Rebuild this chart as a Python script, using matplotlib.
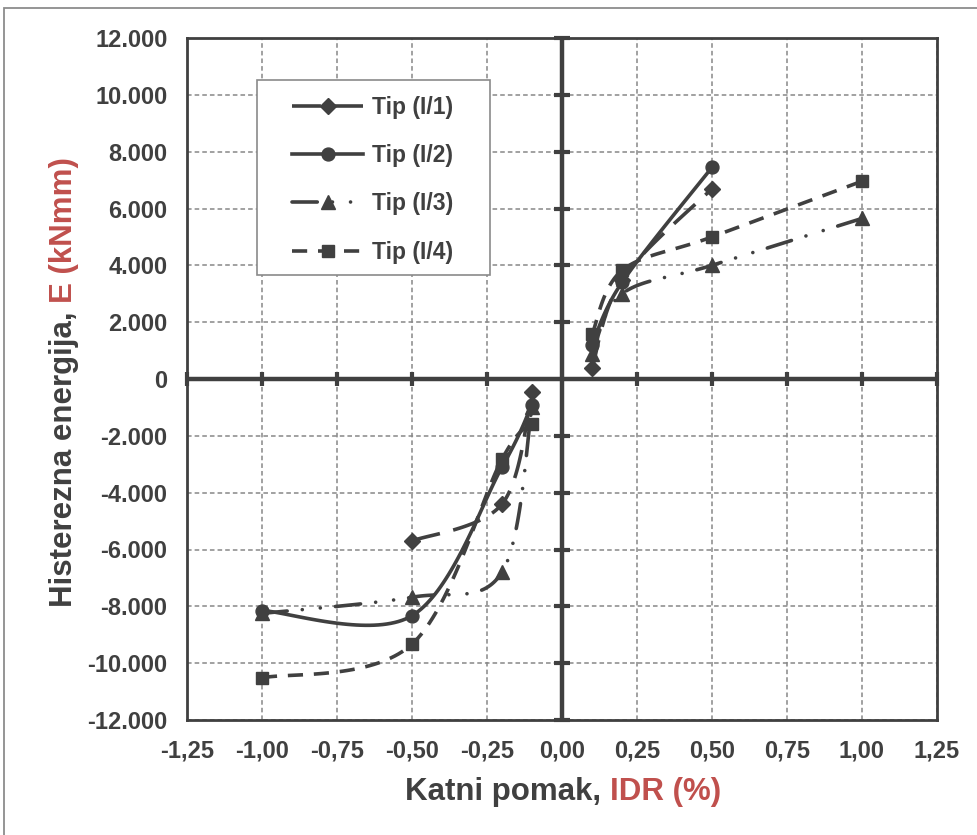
import numpy as np
import matplotlib
matplotlib.use('Agg')
import matplotlib.pyplot as plt
from matplotlib.ticker import FuncFormatter
from matplotlib.lines import Line2D
from matplotlib.patches import Rectangle

plt.rcParams['font.family'] = ['Liberation Sans', 'DejaVu Sans']
plt.rcParams['font.weight'] = 'bold'

# ---------------- data ----------------
labels = ['Tip (I/1)', 'Tip (I/2)', 'Tip (I/3)', 'Tip (I/4)']

i1_pos_x = [0.1, 0.2, 0.5]
i1_pos_e = [380, 3500, 6700]
i1_neg_x = [-0.5, -0.2, -0.1]
i1_neg_e = [-5700, -4400, -470]

i2_pos_x = [0.1, 0.2, 0.5]
i2_pos_e = [1200, 3400, 7450]
i2_neg_x = [-1.0, -0.5, -0.2, -0.1]
i2_neg_e = [-8150, -8330, -3100, -900]

i3_pos_x = [0.1, 0.2, 0.5, 1.0]
i3_pos_e = [880, 3000, 4000, 5650]
i3_neg_x = [-1.0, -0.5, -0.2, -0.1]
i3_neg_e = [-8250, -7680, -6800, -1000]

i4_pos_x = [0.1, 0.2, 0.5, 1.0]
i4_pos_e = [1570, 3820, 5000, 6960]
i4_neg_x = [-1.0, -0.5, -0.2, -0.1]
i4_neg_e = [-10520, -9330, -2820, -1580]

x_ticks = [-1.25, -1.0, -0.75, -0.5, -0.25, 0.0, 0.25, 0.5, 0.75, 1.0, 1.25]
y_ticks = [-12000, -10000, -8000, -6000, -4000, -2000, 0, 2000, 4000, 6000, 8000, 10000, 12000]

# ---------------- helpers ----------------
def excel_smooth(x, y, n=40):
    P = np.column_stack([x, y]).astype(float)
    m = len(P)
    out = [P[0]]
    t = np.linspace(0, 1, n)[1:, None]
    for i in range(m - 1):
        p0 = P[max(i - 1, 0)]
        p1 = P[i]
        p2 = P[i + 1]
        p3 = P[min(i + 2, m - 1)]
        c1 = p1 + (p2 - p0) / 6.0
        c2 = p2 - (p3 - p1) / 6.0
        seg = ((1 - t) ** 3) * p1 + 3 * ((1 - t) ** 2) * t * c1 + 3 * (1 - t) * t ** 2 * c2 + t ** 3 * p2
        out.extend(seg)
    out = np.array(out)
    return out[:, 0], out[:, 1]

DARK = '#404040'
RED = '#C0504D'
LW = 2.6

styles = [
    dict(marker='D', ms=7.8, ls=(0, (8.0, 3.8)), cap='butt'),
    dict(marker='o', ms=9.3, ls='-', cap='butt'),
    dict(marker='^', ms=9.8, ls=(0, (7.0, 4.2, 0.01, 5.0, 0.01, 4.2)), cap='round'),
    dict(marker='s', ms=8.8, ls=(0, (4.2, 3.0)), cap='butt'),
]

series = [
    [(i1_pos_x, i1_pos_e), (i1_neg_x, i1_neg_e)],
    [(i2_pos_x, i2_pos_e), (i2_neg_x, i2_neg_e)],
    [(i3_pos_x, i3_pos_e), (i3_neg_x, i3_neg_e)],
    [(i4_pos_x, i4_pos_e), (i4_neg_x, i4_neg_e)],
]

# ---------------- figure ----------------
W, H = 978, 835
fig = plt.figure(figsize=(W / 100, H / 100), dpi=100)
ax = fig.add_axes([187 / W, 1 - 720 / H, 750 / W, 682 / H])

ax.set_xlim(-1.25, 1.25)
ax.set_ylim(-12000, 12000)
ax.set_xticks(x_ticks)
ax.set_yticks(y_ticks)
ax.xaxis.set_major_formatter(FuncFormatter(lambda v, p: f"{v:.2f}".replace('.', ',').replace('-0,00', '0,00')))
ax.yaxis.set_major_formatter(FuncFormatter(lambda v, p: f"{int(round(v)):,}".replace(',', '.')))
ax.tick_params(axis='both', length=0, labelsize=17, labelcolor=DARK)
ax.tick_params(axis='y', pad=14)
ax.tick_params(axis='x', pad=14)
for lab in ax.get_xticklabels() + ax.get_yticklabels():
    lab.set_fontweight('bold')

ax.grid(True, color='#878787', lw=1.1, ls=(0, (3, 2)), zorder=0)
ax.set_axisbelow(True)
for s in ax.spines.values():
    s.set_color(DARK)
    s.set_linewidth(2.0)
    s.set_zorder(2)

# central axes with crossing tick marks
ax.axhline(0, color=DARK, lw=3.2, zorder=2)
ax.axvline(0, color=DARK, lw=3.2, zorder=2)
xt = [v for v in x_ticks if v != 0]
yt = [v for v in y_ticks if v != 0]
ax.plot(xt, [0] * len(xt), ls='none', marker='|', ms=10, mew=3.0, color=DARK, zorder=2, clip_on=False)
ax.plot([0] * len(yt), yt, ls='none', marker='_', ms=11, mew=3.0, color=DARK, zorder=2, clip_on=False)

handles = []
for sty, branches, lab in zip(styles, series, labels):
    for bx, by in branches:
        sx, sy = excel_smooth(bx, by)
        ax.plot(sx, sy, color=DARK, lw=LW, ls=sty['ls'], dash_capstyle=sty['cap'], zorder=3)
        ax.plot(bx, by, ls='none', marker=sty['marker'], ms=sty['ms'], color=DARK, mec=DARK, zorder=3)
    handles.append(Line2D([], [], color=DARK, lw=LW, ls=sty['ls'], dash_capstyle=sty['cap'],
                          marker=sty['marker'], ms=sty['ms'], mec=DARK, mfc=DARK))

# legend box
box = Rectangle((257 / W, 1 - 275 / H), (490 - 257) / W, (275 - 80) / H, transform=fig.transFigure,
                facecolor='white', edgecolor='#8a8a8a', lw=1.2, zorder=4)
fig.patches.append(box)
leg = fig.legend(handles, labels, loc='upper left', bbox_to_anchor=(292 / W, 1 - 96 / H),
                 frameon=False, fontsize=16.5, handlelength=3.1, handletextpad=0.4,
                 labelspacing=1.1, borderpad=0, borderaxespad=0, numpoints=1)
for t in leg.get_texts():
    t.set_color(DARK)
    t.set_fontweight('bold')
leg.set_zorder(5)

# outer border
fig.patches.append(Rectangle((4 / W, -0.05), 1.2, (1 - 8 / H) + 0.05, transform=fig.transFigure,
                             fill=False, edgecolor='#8c8c8c', lw=1.3, zorder=0))

# axis labels (two colours)
renderer = fig.canvas.get_renderer()

def text_w(s, size):
    t = fig.text(0, 0, s, fontsize=size, fontweight='bold')
    w = t.get_window_extent(renderer).width
    t.remove()
    return w

LS = 22.5
xa, xb = 'Katni pomak, ', 'IDR (%)'
wfull = text_w(xa + xb, LS)
wb = text_w(xb, LS)
x0 = 563 - wfull / 2
base = 800
fig.text(x0 / W, 1 - base / H, xa, fontsize=LS, fontweight='bold', color=DARK, ha='left', va='baseline')
fig.text((x0 + wfull - wb) / W, 1 - base / H, xb, fontsize=LS, fontweight='bold', color=RED, ha='left', va='baseline')

ya, yb = 'Histerezna energija, ', 'E (kNmm)'
wfull = text_w(ya + yb, LS)
wb = text_w(yb, LS)
ystart = 382 + wfull / 2
xbase = 72
fig.text(xbase / W, 1 - ystart / H, ya, fontsize=LS, fontweight='bold', color=DARK, rotation=90,
         rotation_mode='anchor', ha='left', va='baseline')
fig.text(xbase / W, 1 - (ystart - (wfull - wb)) / H, yb, fontsize=LS, fontweight='bold', color=RED, rotation=90,
         rotation_mode='anchor', ha='left', va='baseline')

fig.savefig('out.png', dpi=100)
